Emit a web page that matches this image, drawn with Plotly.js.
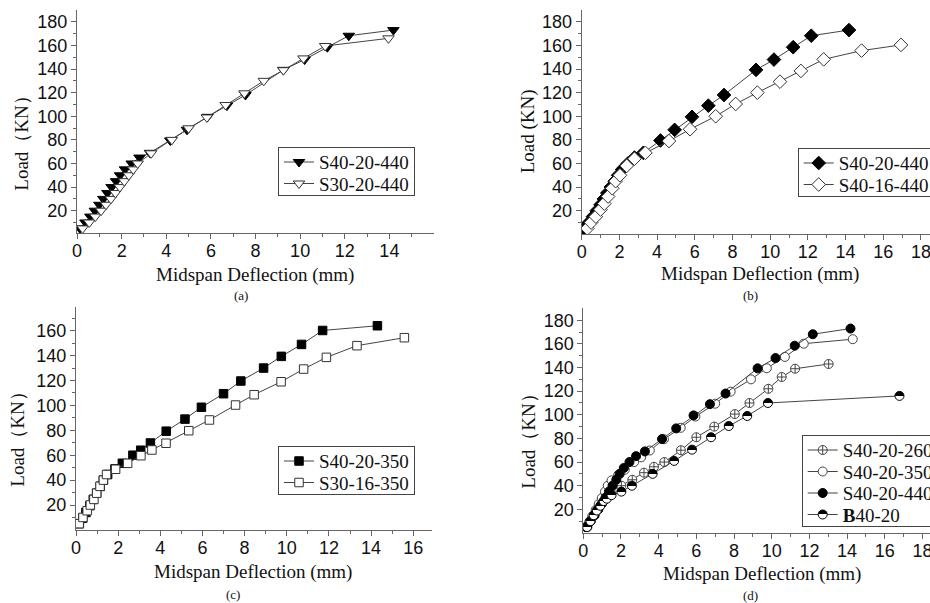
<!DOCTYPE html>
<html><head><meta charset="utf-8">
<script src="https://cdn.plot.ly/plotly-3.0.1.min.js"></script>
<style>html,body{margin:0;padding:0;background:#fff;overflow:hidden}#chart{width:930px;height:603px}</style>
</head><body><div id="chart"></div>
<script>
// ---- data (Midspan deflection in mm, Load in kN) ----
const s40_20_440_x = [0.13, 0.38, 0.6, 0.8, 1.0, 1.18, 1.36, 1.55, 1.75, 1.93, 2.15, 2.45, 2.8, 3.27, 4.18, 4.93, 5.85, 6.72, 7.55, 9.25, 10.2, 11.22, 12.18, 14.18];
const s40_20_440_y = [5, 10, 15, 20, 25, 30, 35, 40, 45, 50, 55, 60, 65, 69, 79.5, 88.5, 99.5, 109, 118, 139.3, 148, 158.5, 168.2, 173];
const s30_20_440_x = [0.25, 0.55, 0.82, 1.08, 1.3, 1.52, 1.72, 1.92, 2.12, 2.32, 2.52, 2.72, 3.32, 4.25, 5.0, 5.82, 6.66, 7.5, 8.37, 9.25, 10.15, 11.12, 13.96];
const s30_20_440_y = [5, 10, 15, 20, 25, 30, 35, 40, 45, 50, 55, 60, 68.6, 80, 89.8, 99, 109.5, 119.4, 130, 139, 149, 159.5, 166];
const s40_16_440_x = [0.3, 0.5, 0.75, 1.0, 1.2, 1.4, 1.62, 1.8, 2.03, 2.39, 2.8, 3.38, 4.63, 5.75, 7.11, 8.17, 9.32, 10.52, 11.63, 12.84, 14.85, 16.94];
const s40_16_440_y = [5, 10, 15, 21, 26, 32, 39, 45, 50, 58, 64, 69, 79, 89, 100, 110.4, 120, 129.3, 138.4, 148.2, 155.6, 160.4];
const s40_20_350_x = [0.16, 0.32, 0.47, 0.66, 0.82, 0.98, 1.15, 1.3, 1.5, 1.85, 2.2, 2.7, 3.07, 3.53, 4.28, 5.17, 5.95, 7.0, 7.82, 8.9, 9.74, 10.7, 11.7, 14.3];
const s40_20_350_y = [5, 9.5, 14, 19.5, 24.5, 29.5, 35, 40, 44.5, 49, 53.5, 60, 64, 69.8, 79.3, 89, 98.5, 109.4, 119.6, 130, 139.4, 149, 160.2, 164];
const s30_16_350_x = [0.15, 0.33, 0.53, 0.68, 0.85, 0.98, 1.14, 1.3, 1.45, 1.88, 2.45, 3.08, 3.6, 4.27, 5.35, 6.33, 7.57, 8.45, 9.73, 10.8, 11.88, 13.33, 15.58];
const s30_16_350_y = [5, 10, 15.4, 20, 24.5, 29.5, 35, 40, 44.5, 48.7, 53.5, 59.6, 64.2, 69.6, 79.7, 88.3, 100.3, 108.6, 119, 129.2, 138.6, 148, 154.4];
const s40_20_260_x = [0.22, 0.4, 0.58, 0.75, 0.92, 1.1, 1.45, 2.02, 2.6, 3.22, 3.75, 4.3, 5.18, 6.0, 6.95, 8.04, 8.82, 9.82, 10.53, 11.24, 13.02];
const s40_20_260_y = [5, 10, 15, 20, 25, 30, 35, 40, 45, 51, 56, 60, 70, 81, 90, 100.6, 110, 122, 132, 139, 143];
const b40_20_x = [0.2, 0.38, 0.55, 0.72, 0.9, 1.08, 1.25, 1.5, 2.02, 2.58, 3.68, 4.82, 5.77, 6.78, 7.72, 8.7, 9.8, 16.78];
const b40_20_y = [5, 10, 15, 19, 23, 27, 29, 32, 35, 40, 50, 61, 70.5, 81, 90.5, 99, 110, 116];

const yTicks = [20, 40, 60, 80, 100, 120, 140, 160, 180];
const yMinor = [10, 30, 50, 70, 90, 110, 130, 150, 170];
const xTicks16 = [0, 2, 4, 6, 8, 10, 12, 14];
const xTicks18 = [0, 2, 4, 6, 8, 10, 12, 14, 16, 18];
const xMinor = [1, 3, 5, 7, 9, 11, 13, 15, 17];

const W = 930, H = 603;
const px = v => v / W, py = v => 1 - v / H;
const AX = '#666', TXT = '#111', LN = '#444';

function axis(extra) {
  return Object.assign({
    showgrid: false, zeroline: false, showline: true, linecolor: AX, linewidth: 1,
    ticks: 'outside', ticklen: 5, tickwidth: 1, tickcolor: AX, tickmode: 'array',
    tickfont: {family: 'Liberation Sans, Arial, sans-serif', size: 18, color: TXT},
    ticklabeloverflow: 'allow', automargin: false, fixedrange: true
  }, extra);
}
function xaxis(extra) { return axis(Object.assign({ticklabelstandoff: -4}, extra)); }
function minor(vals) { return {tickmode: 'array', tickvals: vals, ticks: 'outside', ticklen: 3, tickcolor: AX, tickwidth: 1}; }

function tr(x, y, name, xa, ya, lg, marker) {
  return {x: x, y: y, name: name, xaxis: xa, yaxis: ya, legend: lg, type: 'scatter', mode: 'lines+markers',
    line: {color: LN, width: 1}, marker: marker, hoverinfo: 'skip'};
}
const filledTri = {symbol: 'triangle-down', size: 10, color: '#000', line: {color: '#000', width: 1}};
const openTri = {symbol: 'triangle-down', size: 10, color: '#fff', line: {color: '#333', width: 1}};
const filledDia = {symbol: 'diamond', size: 10.5, color: '#000', line: {color: '#000', width: 1}};
const openDia = {symbol: 'diamond', size: 10.5, color: '#fff', line: {color: '#333', width: 1}};
const filledSq = {symbol: 'square', size: 8.5, color: '#000', line: {color: '#000', width: 1}};
const openSq = {symbol: 'square', size: 8.5, color: '#fff', line: {color: '#333', width: 1}};
const crossC = {symbol: 'circle-cross', size: 9, color: '#fff', line: {color: '#444', width: 1}};
const openC = {symbol: 'circle', size: 9, color: '#fff', line: {color: '#444', width: 1}};
const filledC = {symbol: 'circle', size: 9, color: '#000', line: {color: '#000', width: 1}};
const halfC = {symbol: 'circle', size: 9, color: '#000', gradient: {type: 'vertical', color: '#fff'}, line: {color: '#000', width: 1}};

const data = [
  tr(s40_20_440_x, s40_20_440_y, 'S40-20-440', 'x', 'y', 'legend', filledTri),
  tr(s30_20_440_x, s30_20_440_y, 'S30-20-440', 'x', 'y', 'legend', openTri),
  tr(s40_20_440_x, s40_20_440_y, 'S40-20-440', 'x2', 'y2', 'legend2', filledDia),
  tr(s40_16_440_x, s40_16_440_y, 'S40-16-440', 'x2', 'y2', 'legend2', openDia),
  tr(s40_20_350_x, s40_20_350_y, 'S40-20-350', 'x3', 'y3', 'legend3', filledSq),
  tr(s30_16_350_x, s30_16_350_y, 'S30-16-350', 'x3', 'y3', 'legend3', openSq),
  tr(s40_20_260_x, s40_20_260_y, 'S40-20-260', 'x4', 'y4', 'legend4', crossC),
  tr(s40_20_350_x, s40_20_350_y, 'S40-20-350', 'x4', 'y4', 'legend4', openC),
  tr(s40_20_440_x, s40_20_440_y, 'S40-20-440', 'x4', 'y4', 'legend4', filledC),
  tr(b40_20_x, b40_20_y, '<b>B</b>40-20', 'x4', 'y4', 'legend4', halfC)
];

function legend(x, y) {
  return {x: px(x), y: py(y), xanchor: 'left', yanchor: 'top', bordercolor: '#444', borderwidth: 1, bgcolor: '#fff',
    font: {family: 'Liberation Serif, Times New Roman, serif', size: 19, color: TXT}, tracegroupgap: 0, itemwidth: 30};
}

const serif = {family: 'Liberation Serif, Times New Roman, serif', color: TXT};
function ann(text, x, y, size, angle) {
  return {text: text, xref: 'paper', yref: 'paper', x: px(x), y: py(y), xanchor: 'center', yanchor: 'middle',
    showarrow: false, textangle: angle || 0, font: Object.assign({size: size}, serif)};
}

const layout = {
  width: W, height: H, margin: {l: 0, r: 0, t: 0, b: 0, autoexpand: false},
  paper_bgcolor: '#fff', plot_bgcolor: '#fff', showlegend: true,
  xaxis: xaxis({domain: [px(77), px(434)], range: [0, 16], tickvals: xTicks16, minor: minor(xMinor), anchor: 'y'}),
  yaxis: axis({domain: [py(233), py(10)], range: [1.1, 190], tickvals: yTicks, minor: minor(yMinor), anchor: 'x'}),
  xaxis2: xaxis({domain: [px(581.7), 1], range: [0, 18.48], tickvals: xTicks18, minor: minor(xMinor), anchor: 'y2'}),
  yaxis2: axis({domain: [py(234), py(10)], range: [0.27, 190], tickvals: yTicks, minor: minor(yMinor), anchor: 'x2'}),
  xaxis3: xaxis({domain: [px(76), px(432)], range: [0, 16.89], tickvals: [0, 2, 4, 6, 8, 10, 12, 14, 16], minor: minor(xMinor), anchor: 'y3'}),
  yaxis3: axis({domain: [py(530), py(306.7)], range: [-0.08, 179.3], tickvals: yTicks.slice(0, 8), minor: minor(yMinor), anchor: 'x3'}),
  xaxis4: xaxis({domain: [px(583.3), 1], range: [0, 18.4], tickvals: xTicks18, minor: minor(xMinor), anchor: 'y4'}),
  yaxis4: axis({domain: [py(533.3), py(308)], range: [-0.3, 190.4], tickvals: yTicks, minor: minor(yMinor), anchor: 'x4'}),
  legend: legend(278, 147),
  legend2: legend(797.7, 148),
  legend3: legend(278, 446),
  legend4: legend(801.7, 435),
  annotations: [
    ann('Load（KN）', 21.7, 139, 19, -90),
    ann('Load (KN)', 528.3, 131, 19, -90),
    ann('Load（KN）', 16.7, 435, 19, -90),
    ann('Load（KN）', 527.7, 437, 19, -90),
    ann('Midspan Deflection (mm)', 255, 275, 19),
    ann('Midspan Deflection (mm)', 760, 274, 19),
    ann('Midspan Deflection (mm)', 253, 572, 19),
    ann('Midspan Deflection (mm)', 761.7, 574, 19),
    ann('(a)', 241, 295, 13),
    ann('(b)', 750, 295, 13),
    ann('(c)', 233, 594, 13),
    ann('(d)', 750, 595, 13)
  ]
};

function halfFill() {
  const NS = 'http://www.w3.org/2000/svg';
  document.querySelectorAll('#chart linearGradient').forEach(g => {
    g.setAttribute('x1', '0'); g.setAttribute('y1', '0'); g.setAttribute('x2', '0'); g.setAttribute('y2', '1');
    g.setAttribute('gradientUnits', 'objectBoundingBox');
    while (g.firstChild) g.removeChild(g.firstChild);
    [['0', '#000'], ['0.5', '#000'], ['0.5', '#fff'], ['1', '#fff']].forEach(s => {
      const st = document.createElementNS(NS, 'stop');
      st.setAttribute('offset', s[0]); st.setAttribute('stop-color', s[1]); st.setAttribute('stop-opacity', '1');
      g.appendChild(st);
    });
  });
}

// tighten the legend row spacing to the reference's compact boxes
function tightLegends() {
  const top = 15, step = 21.5, bottom = 11;
  const groups = new Map();
  document.querySelectorAll('#chart g.traces').forEach(t => {
    let p = t.parentNode;
    while (p && p.nodeType === 1 && !(p.querySelector && p.querySelector(':scope > rect.bg'))) p = p.parentNode;
    if (p && p.nodeType === 1) {
      if (!groups.has(p)) groups.set(p, []);
      groups.get(p).push(t);
    }
  });
  groups.forEach((items, lg) => {
    items.forEach((it, i) => {
      const m = /translate\(\s*([-\d.e]+)[ ,]+([-\d.e]+)\s*\)/.exec(it.getAttribute('transform') || '');
      const x = m ? m[1] : 0;
      it.setAttribute('transform', 'translate(' + x + ',' + (top + i * step) + ')');
    });
    const bg = lg.querySelector(':scope > rect.bg');
    bg.setAttribute('height', top + step * (items.length - 1) + bottom);
  });
}
function post() { halfFill(); tightLegends(); }

const gd = document.getElementById('chart');
Plotly.newPlot(gd, data, layout, {displayModeBar: false, staticPlot: true}).then(() => {
  post();
  setTimeout(post, 60);
  setTimeout(post, 300);
});
</script>
</body></html>
